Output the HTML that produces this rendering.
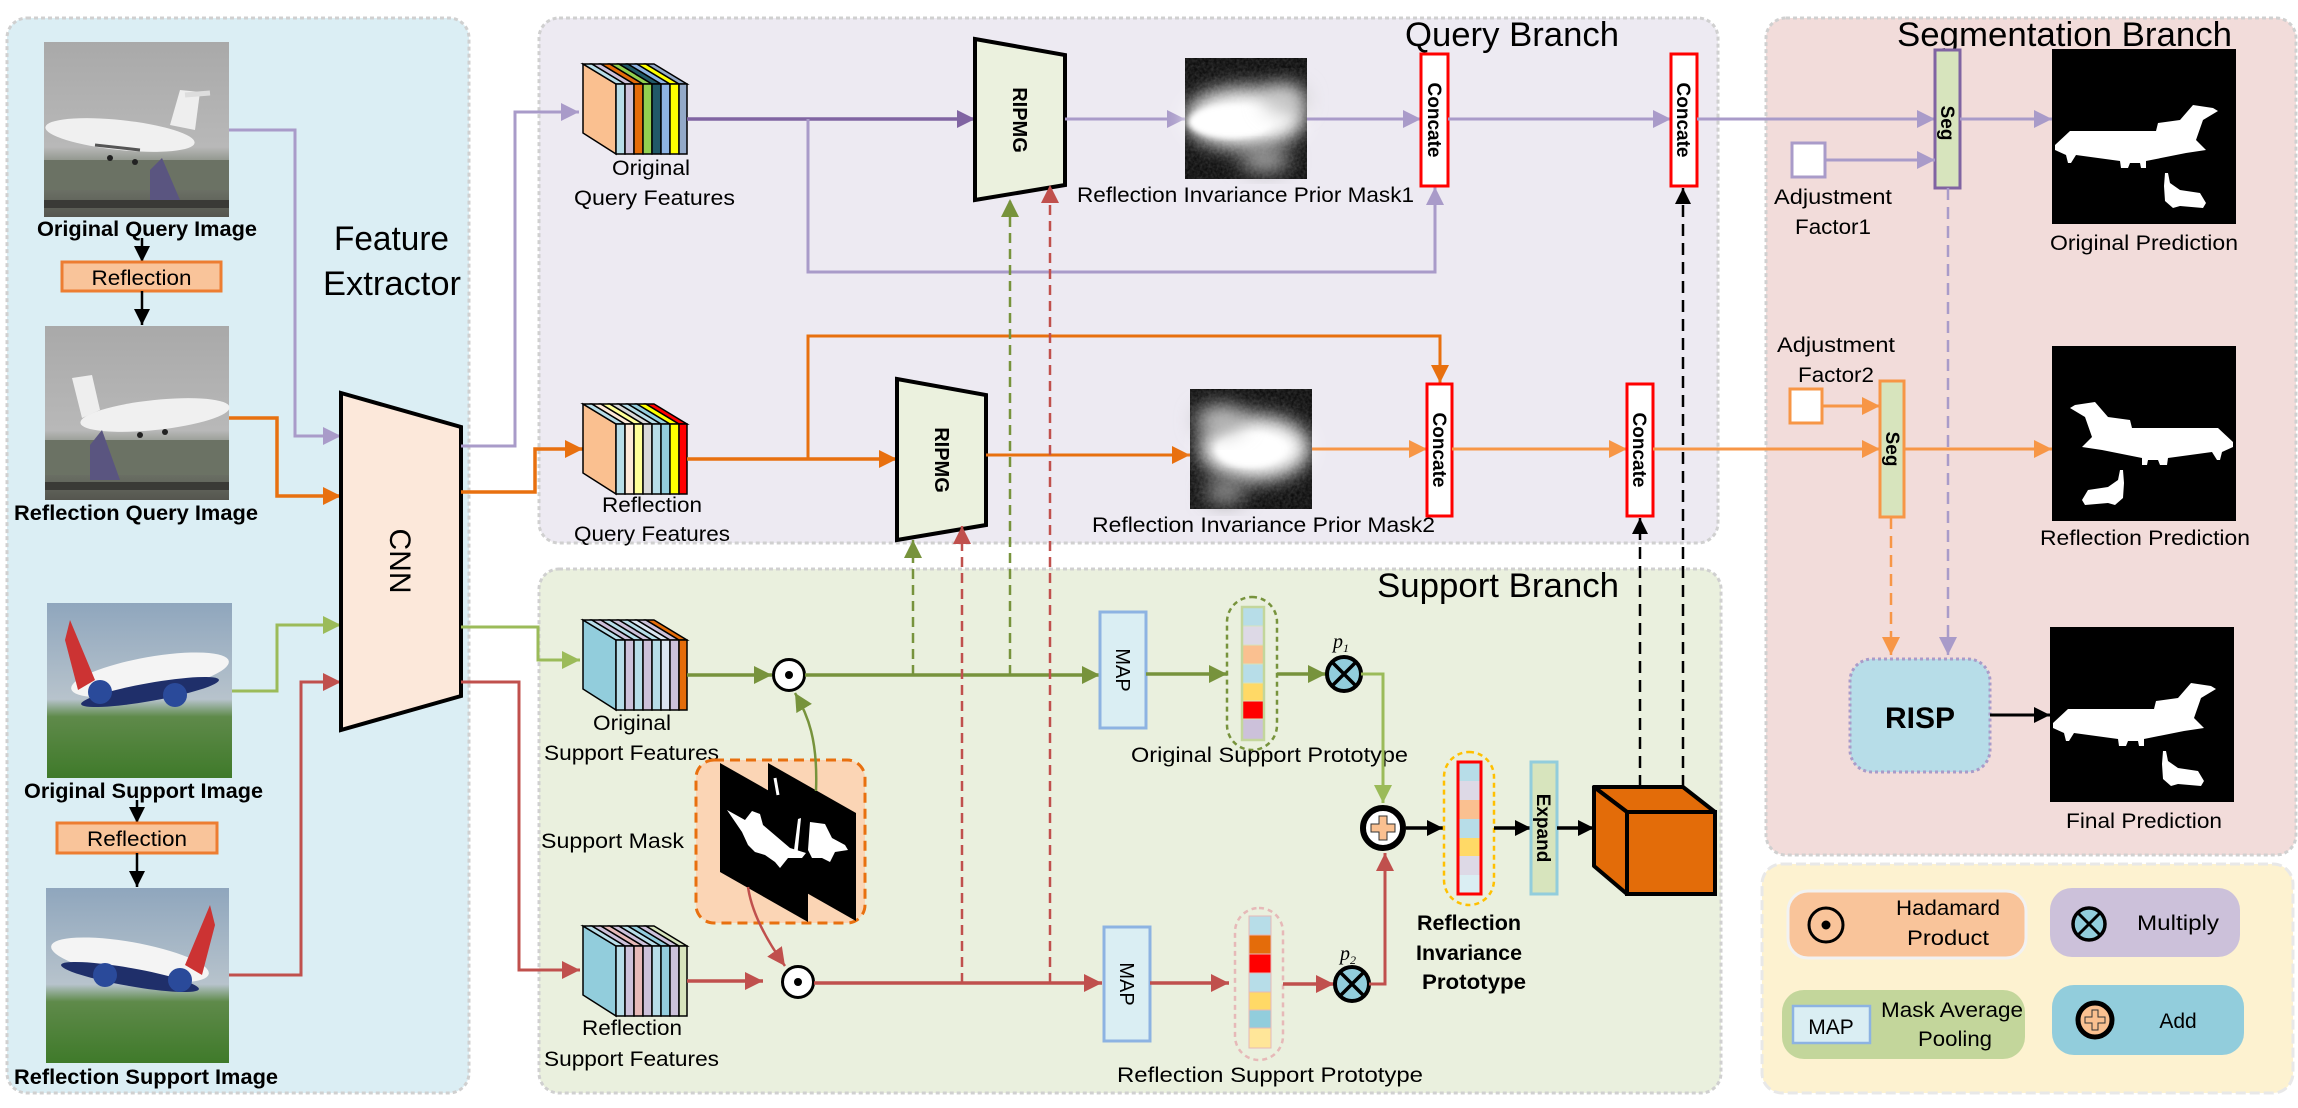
<!DOCTYPE html>
<html><head><meta charset="utf-8"><style>
html,body{margin:0;padding:0;background:#fff}
svg{display:block}
text{font-family:"Liberation Sans Narrow","Liberation Sans",sans-serif;fill:#000}
.b{font-weight:bold}
.s{font-family:"Liberation Sans",sans-serif}
</style></head><body>
<svg width="2298" height="1108" viewBox="0 0 2298 1108" xmlns="http://www.w3.org/2000/svg">
<defs>
<marker id="lav" viewBox="0 0 10 10" refX="10" refY="5" markerWidth="18" markerHeight="18" markerUnits="userSpaceOnUse" orient="auto"><path d="M0,0L10,5L0,10z" fill="#a99bc9"/></marker>
<marker id="pur" viewBox="0 0 10 10" refX="10" refY="5" markerWidth="18" markerHeight="18" markerUnits="userSpaceOnUse" orient="auto"><path d="M0,0L10,5L0,10z" fill="#8064a2"/></marker>
<marker id="org" viewBox="0 0 10 10" refX="10" refY="5" markerWidth="18" markerHeight="18" markerUnits="userSpaceOnUse" orient="auto"><path d="M0,0L10,5L0,10z" fill="#e8700f"/></marker>
<marker id="lor" viewBox="0 0 10 10" refX="10" refY="5" markerWidth="18" markerHeight="18" markerUnits="userSpaceOnUse" orient="auto"><path d="M0,0L10,5L0,10z" fill="#f79646"/></marker>
<marker id="grn" viewBox="0 0 10 10" refX="10" refY="5" markerWidth="18" markerHeight="18" markerUnits="userSpaceOnUse" orient="auto"><path d="M0,0L10,5L0,10z" fill="#9bbb59"/></marker>
<marker id="dgr" viewBox="0 0 10 10" refX="10" refY="5" markerWidth="18" markerHeight="18" markerUnits="userSpaceOnUse" orient="auto"><path d="M0,0L10,5L0,10z" fill="#77933c"/></marker>
<marker id="red" viewBox="0 0 10 10" refX="10" refY="5" markerWidth="18" markerHeight="18" markerUnits="userSpaceOnUse" orient="auto"><path d="M0,0L10,5L0,10z" fill="#c0504d"/></marker>
<marker id="blk" viewBox="0 0 10 10" refX="10" refY="5" markerWidth="16" markerHeight="16" markerUnits="userSpaceOnUse" orient="auto"><path d="M0,0L10,5L0,10z" fill="#000"/></marker>
<filter id="bl" x="-50%" y="-50%" width="200%" height="200%"><feGaussianBlur stdDeviation="10"/></filter>
<filter id="bl2"><feGaussianBlur stdDeviation="3"/></filter>
<filter id="noise" x="0" y="0" width="100%" height="100%"><feTurbulence type="fractalNoise" baseFrequency="0.35" numOctaves="2" result="n"/><feColorMatrix type="matrix" values="0 0 0 0 1  0 0 0 0 1  0 0 0 0 1  0 0 0 0.6 -0.1"/></filter>
<linearGradient id="sky" x1="0" y1="0" x2="0" y2="1"><stop offset="0" stop-color="#a9a9a9"/><stop offset="0.6" stop-color="#b8b8b8"/><stop offset="0.72" stop-color="#7d8577"/><stop offset="1" stop-color="#55564f"/></linearGradient>
<linearGradient id="sky2" x1="0" y1="0" x2="0" y2="1"><stop offset="0" stop-color="#8fa6bd"/><stop offset="0.55" stop-color="#b7c3cc"/><stop offset="0.65" stop-color="#5f8a4a"/><stop offset="1" stop-color="#3f7a2a"/></linearGradient>
<path id="plane" d="M3,96 L18,82 L104,82 L106,74 L128,71 L141,56 L161,59 L166,62 L151,71 L144,91 L154,101 L134,104 L94,112 L94,119 L89,119 L88,114 L78,114 L76,119 L69,119 L68,112 L24,106 L19,114 L16,114 L14,106 L3,101Z M113,124 L116,124 L118,134 L128,141 L148,144 L154,154 L151,159 L128,157 L121,159 L113,152 L112,137Z" fill="#fff"/>
</defs>

<!-- panels -->
<rect x="7" y="18" width="462" height="1075" rx="20" fill="#dbeef4" stroke="#d0d0d0" stroke-width="3" stroke-dasharray="4,3"/>
<rect x="539" y="18" width="1179" height="525" rx="20" fill="#edeaf2" stroke="#d0d0d0" stroke-width="3" stroke-dasharray="4,3"/>
<rect x="539" y="569" width="1182" height="524" rx="20" fill="#eaf0de" stroke="#d0d0d0" stroke-width="3" stroke-dasharray="4,3"/>
<rect x="1766" y="18" width="530" height="837" rx="20" fill="#f2dcda" stroke="#d0d0d0" stroke-width="3" stroke-dasharray="4,3"/>
<rect x="1762" y="864" width="531" height="229" rx="20" fill="#fdf2d0" stroke="#e8e8e8" stroke-width="3" stroke-dasharray="10,4"/>

<!-- titles -->
<text x="1405" y="46" font-size="34" textLength="214" lengthAdjust="spacingAndGlyphs">Query  Branch</text>
<text x="1897" y="46" font-size="34" textLength="335" lengthAdjust="spacingAndGlyphs">Segmentation  Branch</text>
<text x="1377" y="597" font-size="34" textLength="242" lengthAdjust="spacingAndGlyphs">Support  Branch</text>
<text x="334" y="250" font-size="34" textLength="115" lengthAdjust="spacingAndGlyphs">Feature</text>
<text x="323" y="295" font-size="34" textLength="138" lengthAdjust="spacingAndGlyphs">Extractor</text>

<!-- left images -->
<g>
<rect x="44" y="42" width="185" height="175" fill="url(#sky)"/>
<rect x="44" y="160" width="185" height="30" fill="#6b7264"/>
<rect x="44" y="200" width="185" height="8" fill="#3a3a36"/>
<ellipse cx="120" cy="135" rx="75" ry="15" fill="#f0f0f0" transform="rotate(6 120 135)"/>
<path d="M170,125 L180,90 L200,92 L195,130Z" fill="#eee"/><path d="M185,95 L210,93" stroke="#ddd" stroke-width="5"/>
<path d="M95,145 L140,150" stroke="#555" stroke-width="3"/>
<circle cx="110" cy="158" r="3" fill="#222"/><circle cx="135" cy="162" r="3" fill="#222"/>
<path d="M150,170 L162,158 L180,200 L150,200Z" fill="#5a5580"/>
</g>
<text x="37" y="236" font-size="21" class="b" textLength="220" lengthAdjust="spacingAndGlyphs">Original Query Image</text>
<line x1="142" y1="238" x2="142" y2="262" stroke="#000" stroke-width="2.5" marker-end="url(#blk)"/>
<rect x="62" y="262" width="159" height="29" fill="#f9c49a" stroke="#ed7d31" stroke-width="3"/>
<text x="141.5" y="285" font-size="21" text-anchor="middle" textLength="100" lengthAdjust="spacingAndGlyphs">Reflection</text>
<line x1="142" y1="291" x2="142" y2="325" stroke="#000" stroke-width="2.5" marker-end="url(#blk)"/>
<g>
<rect x="45" y="326" width="184" height="174" fill="url(#sky)"/>
<rect x="45" y="440" width="184" height="35" fill="#6b7264"/>
<rect x="45" y="482" width="184" height="8" fill="#3a3a36"/>
<ellipse cx="155" cy="415" rx="75" ry="15" fill="#f0f0f0" transform="rotate(-6 155 415)"/>
<path d="M100,410 L92,375 L72,378 L82,418Z" fill="#eee"/>
<circle cx="140" cy="435" r="3" fill="#222"/><circle cx="165" cy="432" r="3" fill="#222"/>
<path d="M90,445 L102,430 L120,480 L90,480Z" fill="#5a5580"/>
</g>
<text x="14" y="520" font-size="21" class="b" textLength="244" lengthAdjust="spacingAndGlyphs">Reflection Query Image</text>

<g>
<rect x="47" y="603" width="185" height="175" fill="url(#sky2)"/>
<ellipse cx="150" cy="675" rx="80" ry="18" fill="#f4f4f4" transform="rotate(-10 150 675)"/>
<path d="M70,620 L95,680 L78,690 L65,640Z" fill="#c33"/>
<ellipse cx="150" cy="692" rx="70" ry="9" fill="#1f2f6a" transform="rotate(-10 150 692)"/>
<circle cx="100" cy="692" r="12" fill="#2a4a9a"/><circle cx="175" cy="695" r="12" fill="#2a4a9a"/>
</g>
<text x="24" y="798" font-size="21" class="b" textLength="239" lengthAdjust="spacingAndGlyphs">Original Support Image</text>
<line x1="137" y1="800" x2="137" y2="823" stroke="#000" stroke-width="2.5" marker-end="url(#blk)"/>
<rect x="57" y="823" width="160" height="30" fill="#f9c49a" stroke="#ed7d31" stroke-width="3"/>
<text x="137" y="846" font-size="21" text-anchor="middle" textLength="100" lengthAdjust="spacingAndGlyphs">Reflection</text>
<line x1="137" y1="853" x2="137" y2="887" stroke="#000" stroke-width="2.5" marker-end="url(#blk)"/>
<g>
<rect x="46" y="888" width="183" height="175" fill="url(#sky2)"/>
<ellipse cx="130" cy="960" rx="80" ry="18" fill="#f4f4f4" transform="rotate(10 130 960)"/>
<path d="M210,905 L185,965 L202,975 L215,925Z" fill="#c33"/>
<ellipse cx="130" cy="977" rx="70" ry="9" fill="#1f2f6a" transform="rotate(10 130 977)"/>
<circle cx="180" cy="980" r="12" fill="#2a4a9a"/><circle cx="105" cy="975" r="12" fill="#2a4a9a"/>
</g>
<text x="14" y="1084" font-size="21" class="b" textLength="264" lengthAdjust="spacingAndGlyphs">Reflection Support Image</text>

<!-- inputs to CNN -->
<polyline points="229,130 295,130 295,436 341,436" fill="none" stroke="#a99bc9" stroke-width="3" marker-end="url(#lav)"/>
<polyline points="229,418 277,418 277,496 341,496" fill="none" stroke="#e8700f" stroke-width="3.5" marker-end="url(#org)"/>
<polyline points="232,691 277,691 277,625 341,625" fill="none" stroke="#9bbb59" stroke-width="3" marker-end="url(#grn)"/>
<polyline points="229,975 301,975 301,682 341,682" fill="none" stroke="#c0504d" stroke-width="3" marker-end="url(#red)"/>

<!-- CNN -->
<polygon points="341,393 461,427 461,696 341,730" fill="#fce8da" stroke="#000" stroke-width="4"/>
<text x="0" y="0" font-size="30" class="s" text-anchor="middle" transform="translate(390,561) rotate(90)">CNN</text>

<!-- CNN outputs -->
<polyline points="461,446 515,446 515,112 579,112" fill="none" stroke="#a99bc9" stroke-width="3" marker-end="url(#lav)"/>
<polyline points="461,492 535,492 535,449 583,449" fill="none" stroke="#e8700f" stroke-width="3.5" marker-end="url(#org)"/>
<polyline points="461,627 538,627 538,660 580,660" fill="none" stroke="#9bbb59" stroke-width="3" marker-end="url(#grn)"/>
<polyline points="461,682 519,682 519,970 580,970" fill="none" stroke="#c0504d" stroke-width="3" marker-end="url(#red)"/>

<!-- cube: orig query -->
<g transform="translate(583,64)" stroke="#000" stroke-width="1.5">
<polygon points="0,0 33,20 33,90 0,69" fill="#fac090"/>
<polygon points="33,20 42,20 9,0 0,0" fill="#b7dde8"/><rect x="33" y="20" width="9" height="70" fill="#b7dde8"/>
<polygon points="42,20 51,20 18,0 9,0" fill="#ccc1da"/><rect x="42" y="20" width="9" height="70" fill="#ccc1da"/>
<polygon points="51,20 60,20 27,0 18,0" fill="#e46c0a"/><rect x="51" y="20" width="9" height="70" fill="#e46c0a"/>
<polygon points="60,20 69,20 36,0 27,0" fill="#92d050"/><rect x="60" y="20" width="9" height="70" fill="#92d050"/>
<polygon points="69,20 78,20 45,0 36,0" fill="#215968"/><rect x="69" y="20" width="9" height="70" fill="#215968"/>
<polygon points="78,20 87,20 54,0 45,0" fill="#8eb4e3"/><rect x="78" y="20" width="9" height="70" fill="#8eb4e3"/>
<polygon points="87,20 96,20 63,0 54,0" fill="#ffff00"/><rect x="87" y="20" width="9" height="70" fill="#ffff00"/>
<polygon points="96,20 104,20 71,0 63,0" fill="#93a9c8"/><rect x="96" y="20" width="8" height="70" fill="#93a9c8"/>
</g>
<text x="651" y="175" font-size="21" text-anchor="middle" textLength="78" lengthAdjust="spacingAndGlyphs">Original</text>
<text x="574" y="205" font-size="21" textLength="161" lengthAdjust="spacingAndGlyphs">Query  Features</text>

<!-- cube: refl query -->
<g transform="translate(583,404)" stroke="#000" stroke-width="1.5">
<polygon points="0,0 33,20 33,90 0,69" fill="#fac090"/>
<polygon points="33,20 42,20 9,0 0,0" fill="#b7dde8"/><rect x="33" y="20" width="9" height="70" fill="#b7dde8"/>
<polygon points="42,20 51,20 18,0 9,0" fill="#fde9d9"/><rect x="42" y="20" width="9" height="70" fill="#fde9d9"/>
<polygon points="51,20 60,20 27,0 18,0" fill="#ffff99"/><rect x="51" y="20" width="9" height="70" fill="#ffff99"/>
<polygon points="60,20 69,20 36,0 27,0" fill="#d9d9d9"/><rect x="60" y="20" width="9" height="70" fill="#d9d9d9"/>
<polygon points="69,20 78,20 45,0 36,0" fill="#b7dde8"/><rect x="69" y="20" width="9" height="70" fill="#b7dde8"/>
<polygon points="78,20 87,20 54,0 45,0" fill="#93cddd"/><rect x="78" y="20" width="9" height="70" fill="#93cddd"/>
<polygon points="87,20 96,20 63,0 54,0" fill="#ffff00"/><rect x="87" y="20" width="9" height="70" fill="#ffff00"/>
<polygon points="96,20 104,20 71,0 63,0" fill="#ff0000"/><rect x="96" y="20" width="8" height="70" fill="#ff0000"/>
</g>
<text x="652" y="512" font-size="21" text-anchor="middle" textLength="100" lengthAdjust="spacingAndGlyphs">Reflection</text>
<text x="574" y="541" font-size="21" textLength="156" lengthAdjust="spacingAndGlyphs">Query Features</text>

<!-- cube: orig support -->
<g transform="translate(583,620)" stroke="#000" stroke-width="1.5">
<polygon points="0,0 33,20 33,90 0,69" fill="#92cddc"/>
<polygon points="33,20 42,20 9,0 0,0" fill="#b7dde8"/><rect x="33" y="20" width="9" height="70" fill="#b7dde8"/>
<polygon points="42,20 51,20 18,0 9,0" fill="#ccc1da"/><rect x="42" y="20" width="9" height="70" fill="#ccc1da"/>
<polygon points="51,20 60,20 27,0 18,0" fill="#b7dde8"/><rect x="51" y="20" width="9" height="70" fill="#b7dde8"/>
<polygon points="60,20 69,20 36,0 27,0" fill="#ccc1da"/><rect x="60" y="20" width="9" height="70" fill="#ccc1da"/>
<polygon points="69,20 78,20 45,0 36,0" fill="#b7dde8"/><rect x="69" y="20" width="9" height="70" fill="#b7dde8"/>
<polygon points="78,20 87,20 54,0 45,0" fill="#dbe5f1"/><rect x="78" y="20" width="9" height="70" fill="#dbe5f1"/>
<polygon points="87,20 96,20 63,0 54,0" fill="#ccc1da"/><rect x="87" y="20" width="9" height="70" fill="#ccc1da"/>
<polygon points="96,20 104,20 71,0 63,0" fill="#e46c0a"/><rect x="96" y="20" width="8" height="70" fill="#e46c0a"/>
</g>
<text x="632" y="730" font-size="21" text-anchor="middle" textLength="78" lengthAdjust="spacingAndGlyphs">Original</text>
<text x="544" y="760" font-size="21" textLength="175" lengthAdjust="spacingAndGlyphs">Support Features</text>

<!-- cube: refl support -->
<g transform="translate(583,926)" stroke="#000" stroke-width="1.5">
<polygon points="0,0 33,20 33,90 0,69" fill="#92cddc"/>
<polygon points="33,20 42,20 9,0 0,0" fill="#b7dde8"/><rect x="33" y="20" width="9" height="70" fill="#b7dde8"/>
<polygon points="42,20 51,20 18,0 9,0" fill="#ccc1da"/><rect x="42" y="20" width="9" height="70" fill="#ccc1da"/>
<polygon points="51,20 60,20 27,0 18,0" fill="#e6b9b8"/><rect x="51" y="20" width="9" height="70" fill="#e6b9b8"/>
<polygon points="60,20 69,20 36,0 27,0" fill="#ccc1da"/><rect x="60" y="20" width="9" height="70" fill="#ccc1da"/>
<polygon points="69,20 78,20 45,0 36,0" fill="#b7dde8"/><rect x="69" y="20" width="9" height="70" fill="#b7dde8"/>
<polygon points="78,20 87,20 54,0 45,0" fill="#93cddd"/><rect x="78" y="20" width="9" height="70" fill="#93cddd"/>
<polygon points="87,20 96,20 63,0 54,0" fill="#ccc1da"/><rect x="87" y="20" width="9" height="70" fill="#ccc1da"/>
<polygon points="96,20 104,20 71,0 63,0" fill="#d7e4bd"/><rect x="96" y="20" width="8" height="70" fill="#d7e4bd"/>
</g>
<text x="632" y="1035" font-size="21" text-anchor="middle" textLength="100" lengthAdjust="spacingAndGlyphs">Reflection</text>
<text x="544" y="1066" font-size="21" textLength="175" lengthAdjust="spacingAndGlyphs">Support Features</text>

<!-- query row 1 -->
<line x1="687" y1="119" x2="975" y2="119" stroke="#8064a2" stroke-width="3.5" marker-end="url(#pur)"/>
<polyline points="808,119 808,272 1435,272 1435,187" fill="none" stroke="#a99bc9" stroke-width="3" marker-end="url(#lav)"/>
<polygon points="975,39 1065,55 1065,185 975,200" fill="#ebf1de" stroke="#000" stroke-width="4"/>
<text class="s b" font-size="20" text-anchor="middle" transform="translate(1013,120) rotate(90)">RIPMG</text>
<line x1="1065" y1="119" x2="1185" y2="119" stroke="#a99bc9" stroke-width="3" marker-end="url(#lav)"/>
<g>
<rect x="1185" y="58" width="122" height="121" fill="#0a0a0a"/>
<rect x="1185" y="58" width="122" height="121" filter="url(#noise)" opacity="0.35"/>
<ellipse cx="1245" cy="118" rx="60" ry="30" fill="#fff" filter="url(#bl)"/>
<ellipse cx="1230" cy="122" rx="42" ry="16" fill="#fff" filter="url(#bl2)"/>
<ellipse cx="1285" cy="100" rx="22" ry="16" fill="#ccc" filter="url(#bl)"/>
<ellipse cx="1265" cy="160" rx="25" ry="12" fill="#aaa" filter="url(#bl)"/>
</g>
<line x1="1307" y1="119" x2="1421" y2="119" stroke="#a99bc9" stroke-width="3" marker-end="url(#lav)"/>
<text x="1077" y="202" font-size="21" textLength="337" lengthAdjust="spacingAndGlyphs">Reflection Invariance Prior Mask1</text>
<rect x="1421" y="54" width="27" height="132" fill="#fff" stroke="#ff0000" stroke-width="3"/>
<text class="s b" font-size="19" text-anchor="middle" transform="translate(1428,120) rotate(90)">Concate</text>
<line x1="1448" y1="119" x2="1671" y2="119" stroke="#a99bc9" stroke-width="3" marker-end="url(#lav)"/>
<rect x="1671" y="54" width="26" height="132" fill="#fff" stroke="#ff0000" stroke-width="3"/>
<text class="s b" font-size="19" text-anchor="middle" transform="translate(1677,120) rotate(90)">Concate</text>
<line x1="1697" y1="119" x2="1935" y2="119" stroke="#a99bc9" stroke-width="3" marker-end="url(#lav)"/>

<!-- query row 2 -->
<line x1="687" y1="459" x2="897" y2="459" stroke="#e8700f" stroke-width="3.5" marker-end="url(#org)"/>
<polyline points="808,459 808,336 1440,336 1440,383" fill="none" stroke="#e8700f" stroke-width="3" marker-end="url(#org)"/>
<polygon points="897,379 986,395 986,525 897,540" fill="#ebf1de" stroke="#000" stroke-width="4"/>
<text class="s b" font-size="20" text-anchor="middle" transform="translate(935,460) rotate(90)">RIPMG</text>
<line x1="986" y1="455" x2="1190" y2="455" stroke="#e8700f" stroke-width="3" marker-end="url(#org)"/>
<g>
<rect x="1190" y="389" width="122" height="120" fill="#0a0a0a"/>
<rect x="1190" y="389" width="122" height="120" filter="url(#noise)" opacity="0.35"/>
<ellipse cx="1255" cy="448" rx="55" ry="32" fill="#fff" filter="url(#bl)"/>
<ellipse cx="1250" cy="450" rx="34" ry="17" fill="#fff" filter="url(#bl2)"/>
<ellipse cx="1220" cy="420" rx="25" ry="15" fill="#bbb" filter="url(#bl)"/>
<ellipse cx="1225" cy="492" rx="20" ry="12" fill="#999" filter="url(#bl)"/>
</g>
<line x1="1312" y1="449" x2="1427" y2="449" stroke="#f79646" stroke-width="3" marker-end="url(#lor)"/>
<text x="1092" y="532" font-size="21" textLength="343" lengthAdjust="spacingAndGlyphs">Reflection Invariance Prior Mask2</text>
<rect x="1427" y="384" width="25" height="132" fill="#fff" stroke="#ff0000" stroke-width="3"/>
<text class="s b" font-size="19" text-anchor="middle" transform="translate(1433,450) rotate(90)">Concate</text>
<line x1="1452" y1="449" x2="1627" y2="449" stroke="#f79646" stroke-width="3" marker-end="url(#lor)"/>
<rect x="1627" y="384" width="26" height="132" fill="#fff" stroke="#ff0000" stroke-width="3"/>
<text class="s b" font-size="19" text-anchor="middle" transform="translate(1633,450) rotate(90)">Concate</text>
<line x1="1653" y1="449" x2="1880" y2="449" stroke="#f79646" stroke-width="3" marker-end="url(#lor)"/>

<!-- dashed black up -->
<line x1="1683" y1="787" x2="1683" y2="188" stroke="#000" stroke-width="2.5" stroke-dasharray="12,7" marker-end="url(#blk)"/>
<line x1="1640" y1="787" x2="1640" y2="518" stroke="#000" stroke-width="2.5" stroke-dasharray="12,7" marker-end="url(#blk)"/>

<!-- segmentation -->
<rect x="1935" y="50" width="25" height="138" fill="#d7e4bd" stroke="#8064a2" stroke-width="3"/>
<text class="s b" font-size="19" text-anchor="middle" transform="translate(1941,123) rotate(90)">Seg</text>
<rect x="1792" y="143" width="33" height="34" fill="#fff" stroke="#a99bc9" stroke-width="3"/>
<line x1="1825" y1="160" x2="1935" y2="160" stroke="#a99bc9" stroke-width="3" marker-end="url(#lav)"/>
<text x="1833" y="204" font-size="21" text-anchor="middle" textLength="118" lengthAdjust="spacingAndGlyphs">Adjustment</text>
<text x="1833" y="234" font-size="21" text-anchor="middle" textLength="76" lengthAdjust="spacingAndGlyphs">Factor1</text>
<line x1="1960" y1="119" x2="2052" y2="119" stroke="#a99bc9" stroke-width="3" marker-end="url(#lav)"/>
<rect x="2052" y="49" width="184" height="175" fill="#000"/>
<use href="#plane" transform="translate(2052,49)"/>
<text x="2144" y="250" font-size="21" text-anchor="middle" textLength="188" lengthAdjust="spacingAndGlyphs">Original Prediction</text>
<line x1="1948" y1="188" x2="1948" y2="655" stroke="#a99bc9" stroke-width="2.5" stroke-dasharray="12,7" marker-end="url(#lav)"/>

<rect x="1880" y="381" width="24" height="136" fill="#d7e4bd" stroke="#f79646" stroke-width="3"/>
<text class="s b" font-size="19" text-anchor="middle" transform="translate(1886,449) rotate(90)">Seg</text>
<rect x="1790" y="389" width="32" height="34" fill="#fff" stroke="#f79646" stroke-width="3"/>
<line x1="1822" y1="406" x2="1880" y2="406" stroke="#f79646" stroke-width="3" marker-end="url(#lor)"/>
<text x="1836" y="352" font-size="21" text-anchor="middle" textLength="118" lengthAdjust="spacingAndGlyphs">Adjustment</text>
<text x="1836" y="382" font-size="21" text-anchor="middle" textLength="76" lengthAdjust="spacingAndGlyphs">Factor2</text>
<line x1="1904" y1="449" x2="2052" y2="449" stroke="#f79646" stroke-width="3" marker-end="url(#lor)"/>
<rect x="2052" y="346" width="184" height="175" fill="#000"/>
<use href="#plane" transform="translate(2236,346) scale(-1,1)"/>
<text x="2145" y="545" font-size="21" text-anchor="middle" textLength="210" lengthAdjust="spacingAndGlyphs">Reflection Prediction</text>
<line x1="1891" y1="517" x2="1891" y2="655" stroke="#f79646" stroke-width="2.5" stroke-dasharray="12,7" marker-end="url(#lor)"/>

<rect x="1850" y="659" width="140" height="113" rx="22" fill="#b7dde8" stroke="#a99bc9" stroke-width="3" stroke-dasharray="3,3"/>
<text x="1920" y="728" font-size="30" class="s b" text-anchor="middle" fill="#1f1f3a">RISP</text>
<line x1="1990" y1="715" x2="2050" y2="715" stroke="#000" stroke-width="3" marker-end="url(#blk)"/>
<rect x="2050" y="627" width="184" height="175" fill="#000"/>
<use href="#plane" transform="translate(2050,627)"/>
<text x="2144" y="828" font-size="21" text-anchor="middle" textLength="156" lengthAdjust="spacingAndGlyphs">Final Prediction</text>

<!-- support branch -->
<line x1="687" y1="675" x2="772" y2="675" stroke="#77933c" stroke-width="3.5" marker-end="url(#dgr)"/>
<circle cx="789" cy="675" r="15.5" fill="#fff" stroke="#000" stroke-width="3"/><circle cx="789" cy="675" r="4" fill="#000"/>
<line x1="805" y1="675" x2="1100" y2="675" stroke="#77933c" stroke-width="3.5" marker-end="url(#dgr)"/>
<line x1="913" y1="675" x2="913" y2="540" stroke="#77933c" stroke-width="2.5" stroke-dasharray="10,6" marker-end="url(#dgr)"/>
<line x1="1010" y1="675" x2="1010" y2="199" stroke="#77933c" stroke-width="2.5" stroke-dasharray="10,6" marker-end="url(#dgr)"/>

<line x1="687" y1="981" x2="763" y2="981" stroke="#c0504d" stroke-width="3.5" marker-end="url(#red)"/>
<circle cx="798" cy="982" r="15.5" fill="#fff" stroke="#000" stroke-width="3"/><circle cx="798" cy="982" r="4" fill="#000"/>
<line x1="814" y1="983" x2="1102" y2="983" stroke="#c0504d" stroke-width="3.5" marker-end="url(#red)"/>
<line x1="962" y1="983" x2="962" y2="526" stroke="#c0504d" stroke-width="2.5" stroke-dasharray="10,6" marker-end="url(#red)"/>
<line x1="1050" y1="983" x2="1050" y2="185" stroke="#c0504d" stroke-width="2.5" stroke-dasharray="10,6" marker-end="url(#red)"/>

<!-- support mask -->
<rect x="696" y="760" width="169" height="163" rx="18" fill="#fbd5b5" stroke="#e8700f" stroke-width="3" stroke-dasharray="10,6"/>
<polygon points="768,763 856,813 856,921 768,871" fill="#000"/>
<polygon points="720,763 808,813 808,922 720,872" fill="#000"/>
<path d="M727,810 L745,820 L752,811 L760,814 L763,825 L790,848 L806,853 L802,858 L788,858 L780,868 L775,862 L765,855 L755,852 L748,845 L742,832 Z" fill="#fff"/>
<path d="M798,819 L801,818 L797,858 L793,858 Z" fill="#fff"/>
<path d="M810,822 L825,824 L832,838 L845,845 L848,850 L835,852 L830,862 L822,858 L812,858 L808,850Z" fill="#fff"/>
<path d="M775,778 L778,795" stroke="#fff" stroke-width="3"/>
<text x="541" y="848" font-size="21" textLength="143" lengthAdjust="spacingAndGlyphs">Support Mask</text>
<path d="M816,791 C818,740 808,715 795,693" fill="none" stroke="#77933c" stroke-width="2.5" marker-end="url(#dgr)"/>
<path d="M748,887 C752,915 770,945 785,966" fill="none" stroke="#c0504d" stroke-width="2.5" marker-end="url(#red)"/>

<!-- MAP boxes -->
<rect x="1100" y="612" width="46" height="116" fill="#daeef3" stroke="#8db3e2" stroke-width="3"/>
<text class="s" font-size="20" text-anchor="middle" transform="translate(1116,670) rotate(90)">MAP</text>
<rect x="1104" y="927" width="46" height="114" fill="#daeef3" stroke="#8db3e2" stroke-width="3"/>
<text class="s" font-size="20" text-anchor="middle" transform="translate(1120,984) rotate(90)">MAP</text>

<!-- prototypes -->
<line x1="1146" y1="674" x2="1227" y2="674" stroke="#77933c" stroke-width="3.5" marker-end="url(#dgr)"/>
<rect x="1227" y="597" width="50" height="153" rx="25" fill="none" stroke="#77933c" stroke-width="2.5" stroke-dasharray="5,4"/>
<g stroke="#d7e4bd" stroke-width="1">
<rect x="1242" y="607" width="22" height="19" fill="#b7dde8"/>
<rect x="1242" y="626" width="22" height="19" fill="#ddd9e6"/>
<rect x="1242" y="645" width="22" height="19" fill="#fac090"/>
<rect x="1242" y="664" width="22" height="19" fill="#b7dde8"/>
<rect x="1242" y="683" width="22" height="18" fill="#ffd966"/>
<rect x="1242" y="701" width="22" height="18" fill="#ff0000"/>
<rect x="1242" y="719" width="22" height="21" fill="#ccc1da"/>
</g>
<rect x="1242" y="607" width="22" height="133" fill="none" stroke="#c3d69b" stroke-width="2.5"/>
<line x1="1277" y1="674" x2="1326" y2="674" stroke="#77933c" stroke-width="3.5" marker-end="url(#dgr)"/>
<circle cx="1344" cy="674" r="17" fill="#92cddc" stroke="#000" stroke-width="4"/>
<path d="M1332,662 L1356,686 M1356,662 L1332,686" stroke="#000" stroke-width="3.5"/>
<text x="1333" y="648" font-size="20" font-style="italic" style="font-family:'Liberation Serif',serif">p<tspan font-size="12" dy="4">1</tspan></text>
<text x="1131" y="762" font-size="21" textLength="277" lengthAdjust="spacingAndGlyphs">Original Support  Prototype</text>
<polyline points="1361,674 1383,674 1383,803" fill="none" stroke="#9bbb59" stroke-width="3" marker-end="url(#grn)"/>

<line x1="1150" y1="983" x2="1229" y2="983" stroke="#c0504d" stroke-width="3.5" marker-end="url(#red)"/>
<rect x="1235" y="908" width="48" height="152" rx="24" fill="none" stroke="#e6b9b8" stroke-width="2.5" stroke-dasharray="5,4"/>
<g stroke="#e6b9b8" stroke-width="1">
<rect x="1249" y="916" width="22" height="19" fill="#b7dde8"/>
<rect x="1249" y="935" width="22" height="19" fill="#e46c0a"/>
<rect x="1249" y="954" width="22" height="19" fill="#ff0000"/>
<rect x="1249" y="973" width="22" height="19" fill="#b7dde8"/>
<rect x="1249" y="992" width="22" height="18" fill="#ffd966"/>
<rect x="1249" y="1010" width="22" height="18" fill="#92cddc"/>
<rect x="1249" y="1028" width="22" height="20" fill="#ffe699"/>
</g>
<line x1="1283" y1="984" x2="1334" y2="984" stroke="#c0504d" stroke-width="3.5" marker-end="url(#red)"/>
<circle cx="1352" cy="984" r="17" fill="#92cddc" stroke="#000" stroke-width="4"/>
<path d="M1340,972 L1364,996 M1364,972 L1340,996" stroke="#000" stroke-width="3.5"/>
<text x="1340" y="960" font-size="20" font-style="italic" style="font-family:'Liberation Serif',serif">p<tspan font-size="12" dy="4">2</tspan></text>
<text x="1117" y="1082" font-size="21" textLength="306" lengthAdjust="spacingAndGlyphs">Reflection  Support  Prototype</text>
<polyline points="1369,984 1385,984 1385,853" fill="none" stroke="#c0504d" stroke-width="3" marker-end="url(#red)"/>

<!-- add -->
<circle cx="1383" cy="828" r="20" fill="#fff" stroke="#000" stroke-width="6"/>
<path d="M1379,816 h8 v8 h8 v8 h-8 v8 h-8 v-8 h-8 v-8 h8z" fill="#fac090" stroke="#333" stroke-width="1"/>
<line x1="1406" y1="828" x2="1443" y2="828" stroke="#000" stroke-width="3.5" marker-end="url(#blk)"/>
<rect x="1444" y="752" width="50" height="153" rx="25" fill="none" stroke="#ffc000" stroke-width="2.5" stroke-dasharray="5,4"/>
<g>
<rect x="1458" y="762" width="23" height="19" fill="#b7dde8"/>
<rect x="1458" y="781" width="23" height="19" fill="#ddd9e6"/>
<rect x="1458" y="800" width="23" height="19" fill="#fac090"/>
<rect x="1458" y="819" width="23" height="19" fill="#b7dde8"/>
<rect x="1458" y="838" width="23" height="18" fill="#ffd966"/>
<rect x="1458" y="856" width="23" height="19" fill="#ddd9e6"/>
<rect x="1458" y="875" width="23" height="19" fill="#daeef3"/>
</g>
<rect x="1458" y="762" width="23" height="132" fill="none" stroke="#ff0000" stroke-width="3"/>
<text x="1469" y="930" font-size="21" class="b" text-anchor="middle" textLength="104" lengthAdjust="spacingAndGlyphs">Reflection</text>
<text x="1469" y="960" font-size="21" class="b" text-anchor="middle" textLength="106" lengthAdjust="spacingAndGlyphs">Invariance</text>
<text x="1474" y="989" font-size="21" class="b" text-anchor="middle" textLength="104" lengthAdjust="spacingAndGlyphs">Prototype</text>
<line x1="1494" y1="828" x2="1531" y2="828" stroke="#000" stroke-width="3.5" marker-end="url(#blk)"/>
<rect x="1531" y="762" width="26" height="132" fill="#d7e4bd" stroke="#92cddc" stroke-width="3"/>
<text class="s b" font-size="19" text-anchor="middle" transform="translate(1537,828) rotate(90)">Expand</text>
<line x1="1557" y1="828" x2="1594" y2="828" stroke="#000" stroke-width="3.5" marker-end="url(#blk)"/>
<polygon points="1594,787 1683,787 1715,812 1627,812" fill="#e36c09" stroke="#000" stroke-width="4" stroke-linejoin="round"/>
<polygon points="1594,787 1627,812 1627,894 1594,866" fill="#e36c09" stroke="#000" stroke-width="4" stroke-linejoin="round"/>
<rect x="1627" y="812" width="88" height="82" fill="#e36c09" stroke="#000" stroke-width="4"/>

<!-- legend -->
<rect x="1788" y="891" width="238" height="67" rx="20" fill="#f9c49a" stroke="#f2f2f2" stroke-width="3"/>
<circle cx="1826" cy="925" r="17" fill="none" stroke="#000" stroke-width="3"/><circle cx="1826" cy="925" r="4.5" fill="#000"/>
<text x="1948" y="915" font-size="21" class="s" text-anchor="middle" textLength="104" lengthAdjust="spacingAndGlyphs">Hadamard</text>
<text x="1948" y="945" font-size="21" class="s" text-anchor="middle" textLength="82" lengthAdjust="spacingAndGlyphs">Product</text>
<rect x="2050" y="888" width="190" height="69" rx="22" fill="#ccc1da"/>
<circle cx="2089" cy="924" r="16" fill="#92cddc" stroke="#000" stroke-width="3.5"/>
<path d="M2078,913 L2100,935 M2100,913 L2078,935" stroke="#000" stroke-width="3"/>
<text x="2178" y="930" font-size="21" class="s" text-anchor="middle" textLength="82" lengthAdjust="spacingAndGlyphs">Multiply</text>
<rect x="1782" y="990" width="243" height="69" rx="22" fill="#c3d69b"/>
<rect x="1793" y="1006" width="77" height="37" fill="#daeef3" stroke="#8db3e2" stroke-width="2.5"/>
<text x="1831" y="1034" font-size="21" class="s" text-anchor="middle">MAP</text>
<text x="1952" y="1017" font-size="21" class="s" text-anchor="middle" textLength="142" lengthAdjust="spacingAndGlyphs">Mask Average</text>
<text x="1955" y="1046" font-size="21" class="s" text-anchor="middle" textLength="74" lengthAdjust="spacingAndGlyphs">Pooling</text>
<rect x="2052" y="985" width="192" height="70" rx="22" fill="#92cddc"/>
<circle cx="2095" cy="1020" r="17" fill="#fac090" stroke="#000" stroke-width="5"/>
<path d="M2092,1010 h6 v7 h7 v6 h-7 v7 h-6 v-7 h-7 v-6 h7z" fill="#fac090" stroke="#333" stroke-width="1"/>
<text x="2178" y="1028" font-size="21" class="s" text-anchor="middle">Add</text>
</svg>
</body></html>
